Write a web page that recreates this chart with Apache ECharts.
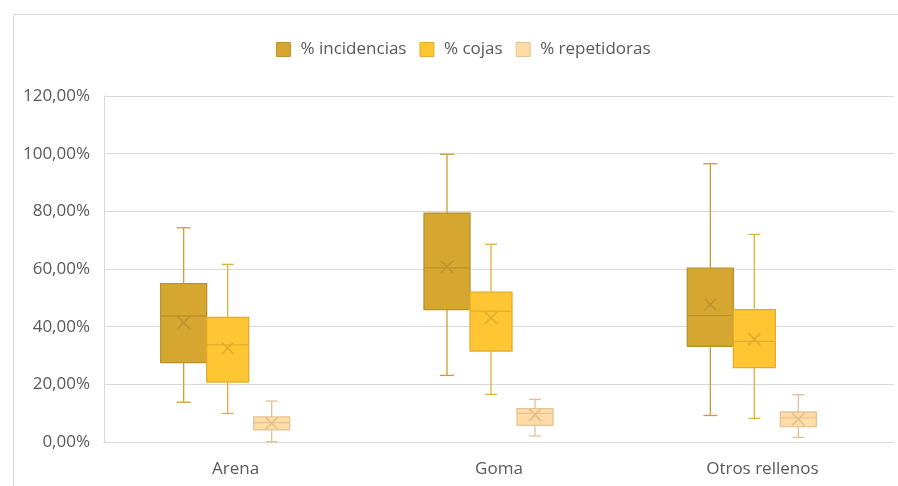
<!DOCTYPE html>
<html>
<head>
<meta charset="utf-8">
<script src="https://cdn.jsdelivr.net/npm/echarts@6/dist/echarts.min.js"></script>
<style>
  * { margin: 0; padding: 0; }
  body { background: #fff; }
  #chart { width: 898px; height: 486px; }
</style>
</head>
<body>
<div id="chart"></div>
<script>
// categorias del eje x
var categories = ['Arena', 'Goma', 'Otros rellenos'];
// cada fila: [min, q1, mediana, q3, max, media] en %
var incidencias = [
  [13.8, 27.5, 43.7, 54.9, 74.3, 41.4],
  [23.1, 45.9, 60.4, 79.4, 99.8, 60.8],
  [9.2, 33.2, 43.8, 60.3, 96.5, 47.7]
];
var cojas = [
  [9.9, 20.8, 33.7, 43.2, 61.6, 32.5],
  [16.5, 31.5, 45.4, 52.0, 68.6, 43.1],
  [8.2, 25.8, 34.9, 45.9, 72.0, 35.7]
];
var repetidoras = [
  [0.1, 4.2, 6.7, 8.7, 14.2, 6.5],
  [2.1, 5.8, 9.9, 11.6, 14.8, 9.4],
  [1.6, 5.3, 8.4, 10.4, 16.4, 7.9]
];
var yTicks = [0, 20, 40, 60, 80, 100, 120];

var fontFam = '"Open Sans", "Noto Sans", sans-serif';
var fs = 17;

function toRows(arr) {
  return arr.map(function (r, i) { return [i].concat(r); });
}

// estilo de cada caja
function makeSeries(name, data, st) {
  return {
    name: name,
    type: 'custom',
    itemStyle: { color: st.fill, borderColor: st.border, borderWidth: 1 },
    encode: { x: 0, y: [1, 2, 3, 4, 5, 6] },
    data: toRows(data),
    renderItem: function (params, api) {
      var c = api.value(0);
      var pMin = api.coord([c, api.value(1)]);
      var pQ1 = api.coord([c, api.value(2)]);
      var pMed = api.coord([c, api.value(3)]);
      var pQ3 = api.coord([c, api.value(4)]);
      var pMax = api.coord([c, api.value(5)]);
      var pMean = api.coord([c, api.value(6)]);
      var x = pMin[0] + st.offset;
      var w = st.width, h = w / 2, cap = st.cap / 2, m = 6;
      var line = { stroke: st.whisker, lineWidth: 1.3 };
      return {
        type: 'group',
        children: [
          { type: 'line', shape: { x1: x, y1: pMax[1], x2: x, y2: pQ3[1] }, style: line },
          { type: 'line', shape: { x1: x, y1: pQ1[1], x2: x, y2: pMin[1] }, style: line },
          { type: 'line', shape: { x1: x - cap, y1: pMax[1], x2: x + cap, y2: pMax[1] }, style: line },
          { type: 'line', shape: { x1: x - cap, y1: pMin[1], x2: x + cap, y2: pMin[1] }, style: line },
          { type: 'rect', shape: { x: x - h, y: pQ3[1], width: w, height: pQ1[1] - pQ3[1] },
            style: { fill: st.fill, stroke: st.border, lineWidth: 1.3 } },
          { type: 'line', shape: { x1: x - h, y1: pMed[1], x2: x + h, y2: pMed[1] },
            style: { stroke: st.border, lineWidth: 1.3 } },
          { type: 'line', shape: { x1: x - m, y1: pMean[1] - m, x2: x + m, y2: pMean[1] + m },
            style: { stroke: st.mean, lineWidth: 1.6 } },
          { type: 'line', shape: { x1: x - m, y1: pMean[1] + m, x2: x + m, y2: pMean[1] - m },
            style: { stroke: st.mean, lineWidth: 1.6 } }
        ]
      };
    }
  };
}

var stInc = { fill: '#D5A731', border: '#BB9228', whisker: '#C9A033', mean: '#BE9430', offset: -52, width: 46, cap: 14 };
var stCoj = { fill: '#FFC533', border: '#E2AD2D', whisker: '#E0B03C', mean: '#E0AC2E', offset: -8, width: 42, cap: 12 };
var stRep = { fill: '#FFDBA6', border: '#E3C496', whisker: '#E0C397', mean: '#E2BE8C', offset: 36, width: 36, cap: 12 };

var chart = echarts.init(document.getElementById('chart'));
chart.setOption({
  animation: false,
  textStyle: { fontFamily: fontFam },
  graphic: [{
    type: 'rect', left: 11, top: 12, z: -1,
    shape: { width: 1000, height: 1000 },
    style: { fill: 'none', stroke: '#D9D9D9', lineWidth: 1 }
  }],
  legend: {
    left: 276, top: 41, padding: 0,
    itemWidth: 14, itemHeight: 14, itemGap: 13,
    icon: 'rect',
    textStyle: { fontSize: fs, color: '#595959', fontFamily: fontFam, padding: [0, 0, 0, 5] },
    data: [
      { name: '% incidencias', itemStyle: { color: stInc.fill, borderColor: stInc.border, borderWidth: 1 } },
      { name: '% cojas', itemStyle: { color: stCoj.fill, borderColor: stCoj.border, borderWidth: 1 } },
      { name: '% repetidoras', itemStyle: { color: stRep.fill, borderColor: stRep.border, borderWidth: 1 } }
    ]
  },
  grid: { left: 104, right: 4, top: 96, bottom: 44, outerBoundsMode: 'none' },
  xAxis: {
    type: 'category',
    data: categories,
    axisLine: { lineStyle: { color: '#D9D9D9' } },
    axisTick: { show: false },
    axisLabel: { fontSize: fs, color: '#595959', margin: 19, fontFamily: fontFam },
    splitLine: { show: false }
  },
  yAxis: {
    type: 'value',
    min: yTicks[0], max: yTicks[yTicks.length - 1], interval: yTicks[1] - yTicks[0],
    axisLine: { show: true, lineStyle: { color: '#D9D9D9' } },
    axisTick: { show: false },
    splitLine: { lineStyle: { color: '#D9D9D9' } },
    axisLabel: {
      fontSize: fs, color: '#595959', margin: 14, fontFamily: fontFam,
      formatter: function (v) { return v.toFixed(2).replace('.', ',') + '%'; }
    }
  },
  series: [
    makeSeries('% incidencias', incidencias, stInc),
    makeSeries('% cojas', cojas, stCoj),
    makeSeries('% repetidoras', repetidoras, stRep)
  ]
});
</script>
</body>
</html>
